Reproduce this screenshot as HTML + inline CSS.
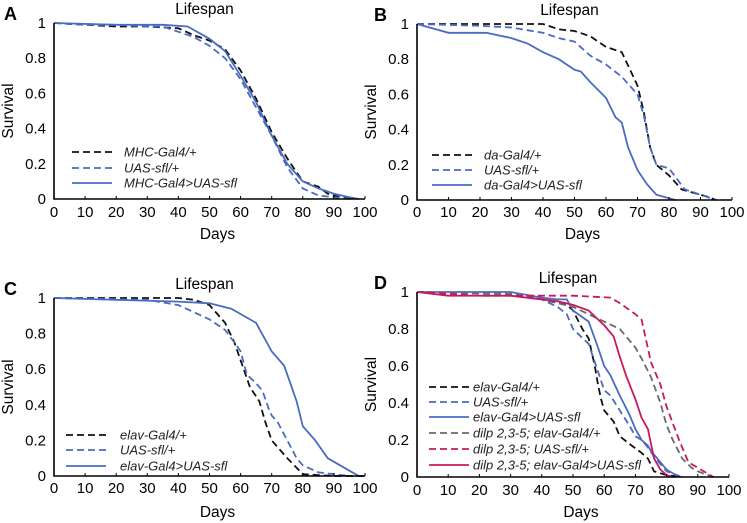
<!DOCTYPE html>
<html><head><meta charset="utf-8">
<style>
body{margin:0;background:#fff;}
svg{display:block;font-family:"Liberation Sans",sans-serif;}
</style></head>
<body>
<svg id="chart" width="747" height="523" viewBox="0 0 747 523" xmlns="http://www.w3.org/2000/svg"></svg>
<script>
const xTicks = [0,10,20,30,40,50,60,70,80,90,100];
const yTicks = [0,0.2,0.4,0.6,0.8,1];
const yTickLabels = ["0","0.2","0.4","0.6","0.8","1"];

// Panel A
const aMhcDays = [0,10,20,30,40,45,50,55,60,65,70,75,80,85,88,92,96];
const aMhcSurv = [1,0.99,0.98,0.98,0.97,0.93,0.9,0.85,0.73,0.57,0.38,0.23,0.1,0.07,0.03,0.01,0];
const aUasDays = [0,10,20,30,35,40,45,50,55,60,65,70,75,80,85,90,95];
const aUasSurv = [1,0.99,0.99,0.98,0.98,0.95,0.92,0.87,0.8,0.68,0.52,0.36,0.18,0.06,0.02,0.01,0];
const aExpDays = [0,20,35,43,45,50,55,60,65,70,75,80,85,90,95,98];
const aExpSurv = [1,0.99,0.99,0.98,0.96,0.91,0.84,0.7,0.55,0.36,0.2,0.1,0.06,0.03,0.01,0];
// Panel B
const bDaDays = [0,20,40,45,50,55,60,65,70,72,74,76,80,84,88,92,95];
const bDaSurv = [1,1,1,0.97,0.96,0.93,0.87,0.84,0.65,0.5,0.3,0.2,0.14,0.06,0.04,0.02,0];
const bUasDays = [0,20,30,40,45,50,55,60,65,70,72,74,76,80,85,90,95];
const bUasSurv = [1,0.99,0.98,0.95,0.92,0.9,0.82,0.77,0.7,0.6,0.48,0.3,0.2,0.18,0.06,0.03,0];
const bExpDays = [0,10,22,30,35,40,45,50,52,55,60,63,65,67,70,73,76,80,82];
const bExpSurv = [1,0.95,0.95,0.92,0.89,0.84,0.8,0.74,0.73,0.67,0.58,0.47,0.44,0.3,0.17,0.09,0.03,0.01,0];
// Panel C
const cElavDays = [0,40,45,50,55,58,61,63,66,68,70,72,75,80,85,90,100];
const cElavSurv = [1,1,0.99,0.96,0.86,0.75,0.6,0.5,0.42,0.3,0.2,0.16,0.1,0.01,0.005,0,0];
const cUasDays = [0,30,40,45,50,55,58,60,62,65,67,69,70,72,75,78,80,85,90,95];
const cUasSurv = [1,0.99,0.96,0.92,0.88,0.82,0.75,0.7,0.57,0.52,0.48,0.38,0.34,0.3,0.2,0.1,0.06,0.02,0.01,0];
const cExpDays = [0,20,40,50,57,65,70,74,76,78,80,84,88,92,95,98];
const cExpSurv = [1,0.99,0.98,0.97,0.94,0.86,0.7,0.62,0.52,0.42,0.28,0.2,0.1,0.06,0.03,0];
// Panel D
const dElavDays = [0,30,40,45,48,50,53,55,57,58,59,60,63,65,68,72,74,76,80,85];
const dElavSurv = [1,0.99,0.96,0.94,0.93,0.9,0.8,0.75,0.6,0.5,0.42,0.36,0.3,0.22,0.18,0.13,0.1,0.03,0.01,0];
const dUasDays = [0,30,40,45,48,50,55,58,60,62,65,68,70,72,74,76,80,85];
const dUasSurv = [1,0.99,0.96,0.92,0.88,0.8,0.72,0.57,0.47,0.44,0.36,0.28,0.22,0.2,0.16,0.11,0.03,0];
const dExpDays = [0,30,40,45,48,49,50,55,58,60,62,65,68,70,72,74,75,78,80,84];
const dExpSurv = [1,1,0.97,0.96,0.96,0.93,0.9,0.84,0.7,0.6,0.55,0.44,0.34,0.26,0.2,0.17,0.14,0.08,0.04,0];
const dDilpElavDays = [0,30,40,50,55,60,65,70,72,75,78,80,82,85,88,90,95];
const dDilpElavSurv = [1,0.99,0.96,0.92,0.88,0.84,0.8,0.7,0.64,0.54,0.4,0.28,0.2,0.1,0.05,0.03,0];
const dDilpUasDays = [0,20,30,50,62,65,70,72,75,78,80,84,87,90,95];
const dDilpUasSurv = [1,0.98,0.98,0.98,0.97,0.94,0.88,0.85,0.62,0.5,0.38,0.2,0.08,0.05,0];
const dDilpExpDays = [0,10,30,45,50,55,60,63,65,67,70,72,74,76,78,80,82];
const dDilpExpSurv = [1,0.98,0.98,0.95,0.93,0.9,0.82,0.76,0.65,0.55,0.42,0.32,0.26,0.1,0.04,0.01,0];

const BLUE="#4a6bc2", PINK="#c8185f", GRAY="#6a6a6a", BLACK="#111";
const NS="http://www.w3.org/2000/svg";
const svg=document.getElementById('chart');
function mk(tag,attrs,parent){const e=document.createElementNS(NS,tag);for(const k in attrs)e.setAttribute(k,attrs[k]);(parent||svg).appendChild(e);return e;}

const panels=[
 {letter:"A",lx:4,x0:54,x1:365,y1:23,y0:199,tickY:217,daysY:239,legX:72,legTextX:124,legY:[152,168,183],
  series:[[aMhcDays,aMhcSurv,BLACK,true,"MHC-Gal4/+"],[aUasDays,aUasSurv,BLUE,true,"UAS-sfl/+"],[aExpDays,aExpSurv,BLUE,false,"MHC-Gal4>UAS-sfl"]]},
 {letter:"B",lx:374,x0:417,x1:732,y1:24,y0:200,tickY:217,daysY:239,legX:432,legTextX:484,legY:[155,170,185],
  series:[[bDaDays,bDaSurv,BLACK,true,"da-Gal4/+"],[bUasDays,bUasSurv,BLUE,true,"UAS-sfl/+"],[bExpDays,bExpSurv,BLUE,false,"da-Gal4>UAS-sfl"]]},
 {letter:"C",lx:4,x0:54,x1:365,y1:298,y0:476,tickY:493,daysY:517,legX:66,legTextX:120,legY:[435,450,466],
  series:[[cElavDays,cElavSurv,BLACK,true,"elav-Gal4/+"],[cUasDays,cUasSurv,BLUE,true,"UAS-sfl/+"],[cExpDays,cExpSurv,BLUE,false,"elav-Gal4>UAS-sfl"]]},
 {letter:"D",lx:374,x0:417,x1:729,y1:292,y0:477,tickY:495,daysY:517,legX:429,legTextX:473,legY:[387,402,417,433,449,465],
  series:[[dElavDays,dElavSurv,BLACK,true,"elav-Gal4/+"],[dUasDays,dUasSurv,BLUE,true,"UAS-sfl/+"],[dExpDays,dExpSurv,BLUE,false,"elav-Gal4>UAS-sfl"],
          [dDilpElavDays,dDilpElavSurv,GRAY,true,"dilp 2,3-5; elav-Gal4/+"],[dDilpUasDays,dDilpUasSurv,PINK,true,"dilp 2,3-5; UAS-sfl/+"],[dDilpExpDays,dDilpExpSurv,PINK,false,"dilp 2,3-5; elav-Gal4>UAS-sfl"]]}
];

panels.forEach(p=>{
  const g=mk('g',{});
  
  
  const sx=d=>p.x0+(p.x1-p.x0)*d/100;
  const sy=v=>p.y0-(p.y0-p.y1)*v;
  const L=mk('text',{x:p.lx,y:p.y1-3,'font-size':18,'font-weight':'bold',fill:'#000'},g);L.textContent=p.letter;
  
  const T=mk('text',{x:(p.x0+p.x1)/2-5,y:p.y1-9,'font-size':15.5,'text-anchor':'middle'},g);T.textContent="Lifespan";
  
  p.series.forEach(s=>{
    const pts=s[0].map((d,i)=>sx(d).toFixed(1)+","+sy(s[1][i]).toFixed(1)).join(" ");
    const pl=mk('polyline',{points:pts,fill:'none',stroke:s[2],'stroke-width':1.8,'stroke-dasharray':s[3]?'7,4':'none'},g);
    
  });
  const ax=mk('path',{d:`M${p.x0},${p.y1} V${p.y0} H${p.x1}`,stroke:'#000','stroke-width':1.6,fill:'none'},g);
  
  xTicks.forEach(t=>{
    mk('line',{x1:sx(t),x2:sx(t),y1:p.y0,y2:p.y0-3,stroke:'#000','stroke-width':1},g);
    const tx=mk('text',{x:sx(t),y:p.tickY,'font-size':15,'text-anchor':'middle'},g);tx.textContent=t;
    
  });
  yTicks.forEach((t,i)=>{
    const ty=mk('text',{x:p.x0-8,y:sy(t)+5,'font-size':15,'text-anchor':'end'},g);ty.textContent=yTickLabels[i];
    
  });
  const xl=mk('text',{x:(p.x0+p.x1)/2+8,y:p.daysY,'font-size':15.5,'text-anchor':'middle'},g);xl.textContent="Days";
  
  const yc=(p.y0+p.y1)/2;
  const yl=mk('text',{x:p.x0-41,y:yc,'font-size':15.5,'text-anchor':'middle',transform:`rotate(-90 ${p.x0-41} ${yc})`},g);yl.textContent="Survival";
  
  p.series.forEach((s,i)=>{
    const y=p.legY[i];
    const ln=mk('line',{x1:p.legX,x2:p.legX+40,y1:y,y2:y,stroke:s[2],'stroke-width':1.8,'stroke-dasharray':s[3]?'7,4':'none'},g);
    
    const lt=mk('text',{x:p.legTextX,y:y+4.5,'font-size':13,'font-style':'italic',fill:'#222'},g);lt.textContent=s[4];
    
  });
});
</script>
</body></html>
